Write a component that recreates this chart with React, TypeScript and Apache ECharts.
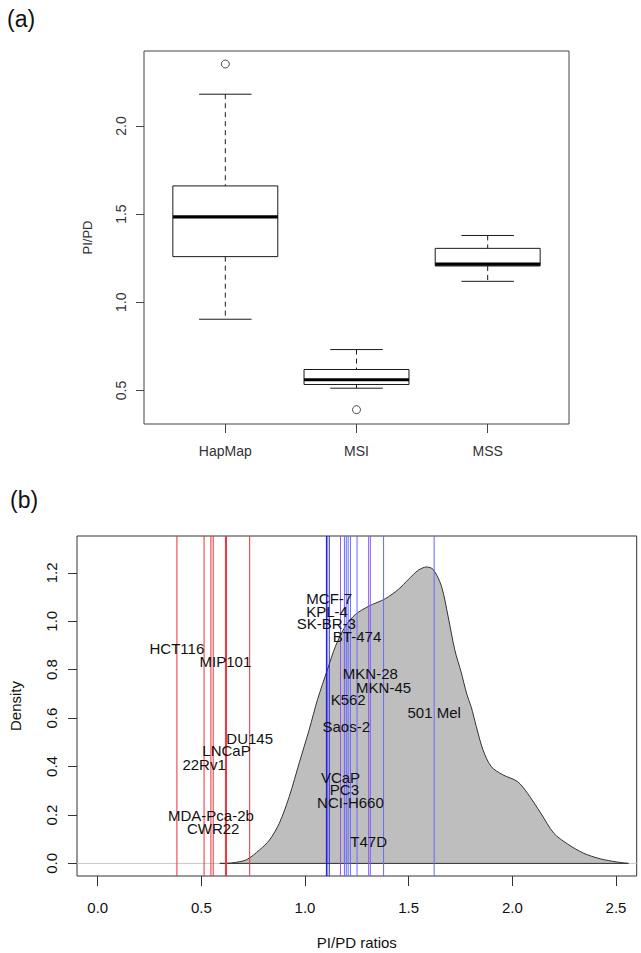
import React, { useEffect, useRef } from "react";
import * as echarts from "echarts";

// ---------- Panel (a): box plot data ----------
const boxCategories = ["HapMap", "MSI", "MSS"];
const boxLow = [0.904, 0.513, 1.119];
const boxQ1 = [1.259, 0.534, 1.206];
const boxMedian = [1.485, 0.561, 1.217];
const boxQ3 = [1.66, 0.619, 1.306];
const boxHigh = [2.18, 0.732, 1.379];
const outlierGroup = ["HapMap", "MSI"];
const outlierValue = [2.351, 0.391];
const boxYTicks = [0.5, 1.0, 1.5, 2.0];

// ---------- Panel (b): density data ----------
const densityX = [0.589, 0.646, 0.717, 0.781, 0.829, 0.876, 0.924, 0.972, 1.02, 1.06, 1.108, 1.147, 1.195, 1.243, 1.307, 1.387, 1.451, 1.499, 1.547, 1.586, 1.618, 1.658, 1.69, 1.722, 1.754, 1.78, 1.802, 1.826, 1.858, 1.898, 1.954, 2.025, 2.073, 2.137, 2.2, 2.265, 2.344, 2.424, 2.504, 2.56];
const densityY = [0.0, 0.002, 0.015, 0.056, 0.097, 0.166, 0.276, 0.415, 0.552, 0.676, 0.80, 0.897, 0.98, 1.028, 1.062, 1.093, 1.132, 1.173, 1.211, 1.224, 1.214, 1.145, 1.021, 0.883, 0.787, 0.70, 0.645, 0.566, 0.47, 0.40, 0.366, 0.338, 0.29, 0.208, 0.125, 0.081, 0.042, 0.019, 0.006, 0.0];

const msiNames = ["HCT116", "22Rv1", "MDA-Pca-2b", "CWR22", "MIP101", "LNCaP", "DU145"];
const msiRatios = [0.382, 0.513, 0.546, 0.557, 0.616, 0.621, 0.733];
const msiLabelY = [0.886, 0.408, 0.197, 0.146, 0.832, 0.467, 0.515];

const mssNames = ["SK-BR-3", "KPL-4", "MCF-7", "VCaP", "PC3", "Saos-2", "K562", "NCI-H660", "BT-474", "T47D", "MKN-28", "MKN-45", "501 Mel"];
const mssRatios = [1.103, 1.106, 1.117, 1.171, 1.19, 1.199, 1.208, 1.219, 1.251, 1.307, 1.315, 1.379, 1.623];
const mssLabelY = [0.99, 1.042, 1.094, 0.355, 0.304, 0.566, 0.676, 0.252, 0.936, 0.09, 0.784, 0.727, 0.624];

const densXTicks = [0, 0.5, 1.0, 1.5, 2.0, 2.5];
const densYTicks = [0, 0.2, 0.4, 0.6, 0.8, 1.0, 1.2];

// ---------- styles ----------
const FONT = "Liberation Sans, Arial, sans-serif";
const msiColor = "#e8303a";
const mssColorByName: Record<string, string> = {
  "SK-BR-3": "#1a1ae0",
  "KPL-4": "#1a1ae0",
  "MCF-7": "#2a2ae6",
  VCaP: "#9a55f0",
  T47D: "#9a55f0",
};
const mssDefaultColor = "#6868ff";

const boxXMin = 0.38, boxXMax = 3.62, boxYMin = 0.31, boxYMax = 2.425;
const dXMin = -0.1, dXMax = 2.6, dYMin = -0.052, dYMax = 1.352;

function buildOption() {
  const boxData = boxCategories.map((_, i) => [i + 1, boxLow[i], boxQ1[i], boxMedian[i], boxQ3[i], boxHigh[i]]);
  const outData = outlierGroup.map((g, i) => [boxCategories.indexOf(g) + 1, outlierValue[i]]);
  const densData = densityX.map((x, i) => [x, densityY[i]]);
  const vlines = [
    ...msiNames.map((n, i) => ({ name: n, value: [msiRatios[i]], color: msiColor })),
    ...mssNames.map((n, i) => ({ name: n, value: [mssRatios[i]], color: mssColorByName[n] || mssDefaultColor })),
  ];
  const labels = [
    ...msiNames.map((n, i) => ({ name: n, value: [msiRatios[i], msiLabelY[i]] })),
    ...mssNames.map((n, i) => ({ name: n, value: [mssRatios[i], mssLabelY[i]] })),
  ];
  const topText = "#333";
  const botText = "#111";
  const noLine = { show: false, onZero: false };

  return {
    animation: false,
    backgroundColor: "#ffffff",
    title: [
      { text: "(a)", left: 2, top: 2, textStyle: { fontSize: 23, fontWeight: "normal", color: "#111", fontFamily: FONT } },
      { text: "(b)", left: 5, top: 483, textStyle: { fontSize: 23, fontWeight: "normal", color: "#111", fontFamily: FONT } },
    ],
    grid: [
      { left: 144, top: 51, width: 425, height: 373, show: true, borderColor: "#444", borderWidth: 1, backgroundColor: "transparent" },
      { left: 72.7, top: 536, width: 564, height: 340, show: true, borderColor: "#333", borderWidth: 1, backgroundColor: "transparent" },
    ],
    xAxis: [
      {
        gridIndex: 0, type: "value", min: boxXMin, max: boxXMax,
        splitLine: { show: false }, axisLine: noLine,
        axisTick: { show: true, customValues: [1, 2, 3], length: 9, lineStyle: { color: "#444" } },
        axisLabel: { customValues: [1, 2, 3], formatter: (v: number) => boxCategories[Math.round(v) - 1], margin: 20, fontSize: 14, color: topText, fontFamily: FONT },
      },
      {
        gridIndex: 1, type: "value", min: dXMin, max: dXMax,
        splitLine: { show: false }, axisLine: noLine,
        axisTick: { show: true, customValues: densXTicks, length: 10, lineStyle: { color: "#333" } },
        axisLabel: { customValues: densXTicks, formatter: (v: number) => v.toFixed(1), margin: 24, fontSize: 15, color: botText, fontFamily: FONT },
        name: "PI/PD ratios", nameLocation: "middle", nameGap: 59,
        nameTextStyle: { fontSize: 15, color: botText, fontFamily: FONT },
      },
    ],
    yAxis: [
      {
        gridIndex: 0, type: "value", min: boxYMin, max: boxYMax,
        splitLine: { show: false }, axisLine: noLine,
        axisTick: { show: true, customValues: boxYTicks, length: 8, lineStyle: { color: "#444" } },
        axisLabel: { customValues: boxYTicks, formatter: (v: number) => v.toFixed(1), rotate: 90, margin: 16, fontSize: 14, color: topText, fontFamily: FONT },
        name: "PI/PD", nameLocation: "middle", nameGap: 50,
        nameTextStyle: { fontSize: 13, color: topText, fontFamily: FONT },
      },
      {
        gridIndex: 1, type: "value", min: dYMin, max: dYMax,
        splitLine: { show: false }, axisLine: noLine,
        axisTick: { show: true, customValues: densYTicks, length: 9, lineStyle: { color: "#333" } },
        axisLabel: { customValues: densYTicks, formatter: (v: number) => v.toFixed(1), rotate: 90, margin: 18, fontSize: 15, color: botText, fontFamily: FONT },
        name: "Density", nameLocation: "middle", nameGap: 54,
        nameTextStyle: { fontSize: 15, color: botText, fontFamily: FONT },
      },
    ],
    series: [
      {
        type: "custom", xAxisIndex: 0, yAxisIndex: 0, data: boxData, silent: true,
        renderItem: (_p: any, api: any) => {
          const x = api.value(0);
          const lo = api.coord([x, api.value(1)]);
          const q1 = api.coord([x, api.value(2)]);
          const md = api.coord([x, api.value(3)]);
          const q3 = api.coord([x, api.value(4)]);
          const hi = api.coord([x, api.value(5)]);
          const bw = api.size([0.8, 0])[0];
          const cw = bw / 2;
          const cx = lo[0];
          const stroke = "#1a1a1a";
          return {
            type: "group",
            children: [
              { type: "line", shape: { x1: cx, y1: hi[1], x2: cx, y2: q3[1] }, style: { stroke, lineWidth: 1, lineDash: [5, 4] } },
              { type: "line", shape: { x1: cx, y1: q1[1], x2: cx, y2: lo[1] }, style: { stroke, lineWidth: 1, lineDash: [5, 4] } },
              { type: "line", shape: { x1: cx - cw / 2, y1: hi[1], x2: cx + cw / 2, y2: hi[1] }, style: { stroke, lineWidth: 1 } },
              { type: "line", shape: { x1: cx - cw / 2, y1: lo[1], x2: cx + cw / 2, y2: lo[1] }, style: { stroke, lineWidth: 1 } },
              { type: "rect", shape: { x: cx - bw / 2, y: q3[1], width: bw, height: q1[1] - q3[1] }, style: { fill: "#fff", stroke, lineWidth: 1 } },
              { type: "line", shape: { x1: cx - bw / 2, y1: md[1], x2: cx + bw / 2, y2: md[1] }, style: { stroke: "#000", lineWidth: 3.2 } },
            ],
          };
        },
      },
      {
        type: "scatter", xAxisIndex: 0, yAxisIndex: 0, data: outData, symbol: "circle", symbolSize: 8, silent: true,
        itemStyle: { color: "#fff", borderColor: "#222", borderWidth: 1 },
      },
      {
        type: "line", xAxisIndex: 1, yAxisIndex: 1, data: [[dXMin, 0], [dXMax, 0]], symbol: "none", silent: true,
        lineStyle: { color: "#c8c8c8", width: 1 }, z: 1,
      },
      {
        type: "line", xAxisIndex: 1, yAxisIndex: 1, data: densData, symbol: "none", smooth: 0.3, silent: true,
        lineStyle: { color: "#333", width: 1 }, areaStyle: { color: "#bebebe", opacity: 1 }, z: 2,
      },
      {
        type: "line", xAxisIndex: 1, yAxisIndex: 1, data: [[densityX[0], 0], [densityX[densityX.length - 1], 0]], symbol: "none", silent: true,
        lineStyle: { color: "#333", width: 1 }, z: 3,
      },
      {
        type: "custom", xAxisIndex: 1, yAxisIndex: 1, data: vlines, silent: true, z: 4,
        renderItem: (p: any, api: any) => {
          const x = api.value(0);
          const a = api.coord([x, dYMin]);
          const b = api.coord([x, dYMax]);
          const color = vlines[p.dataIndex].color;
          return { type: "line", shape: { x1: a[0], y1: a[1], x2: b[0], y2: b[1] }, style: { stroke: color, lineWidth: 1 } };
        },
      },
      {
        type: "custom", xAxisIndex: 1, yAxisIndex: 1, data: labels, silent: true, z: 5,
        renderItem: (p: any, api: any) => {
          const pt = api.coord([api.value(0), api.value(1)]);
          return {
            type: "text", x: pt[0], y: pt[1],
            style: { text: labels[p.dataIndex].name, fontSize: 15, fontFamily: FONT, fill: "#111", align: "center", verticalAlign: "middle" },
          };
        },
      },
    ],
  };
}

export default function App() {
  const ref = useRef<HTMLDivElement>(null);
  useEffect(() => {
    if (!ref.current) return;
    const chart = echarts.init(ref.current, null, { renderer: "svg" });
    chart.setOption(buildOption() as any);
    return () => chart.dispose();
  }, []);
  return <div ref={ref} style={{ position: "fixed", left: 0, top: 0, width: 641, height: 953, background: "#fff" }} />;
}
